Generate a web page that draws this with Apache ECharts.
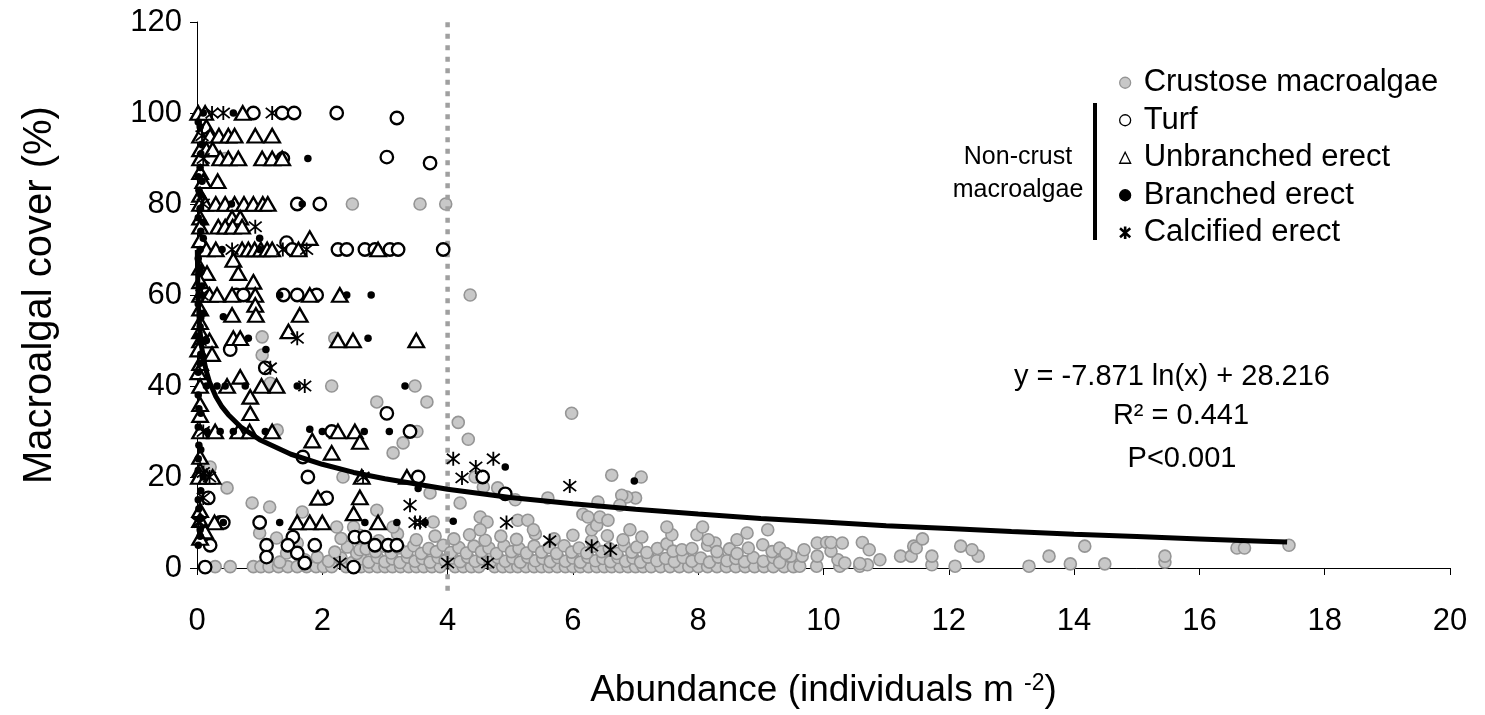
<!DOCTYPE html>
<html><head><meta charset="utf-8">
<script src="https://cdn.jsdelivr.net/npm/echarts/dist/echarts.min.js"></script>
<style>html,body{margin:0;padding:0;background:#fff}#c{width:1485px;height:715px}</style>
</head><body><div id="c"></div>
<script>
// ---------- data ----------
const seriesNames = ['Crustose macroalgae', 'Turf', 'Unbranched erect', 'Branched erect', 'Calcified erect'];

const crustose = [
 [0.29,0.3],[0.53,0.3],[0.9,0.3],[1.02,0.3],[1.15,0.3],[1.3,0.3],[1.45,0.3],[1.6,0.3],[1.75,0.3],[1.9,0.3],[2.02,0.3],[2.15,0.3],[2.38,0.3],[2.62,0.3],[2.75,0.3],[2.88,0.3],[3.0,0.3],[3.12,0.3],[3.25,0.3],[3.38,0.3],[3.5,0.3],[3.62,0.3],[3.75,0.3],[3.88,0.3],[4.12,0.3],[4.25,0.3],[4.38,0.3],[4.5,0.3],[4.75,0.3],[4.88,0.3],[5.0,0.3],[5.12,0.3],[5.25,0.3],[5.38,0.3],[5.5,0.3],[5.62,0.3],[5.75,0.3],[5.88,0.3],[6.0,0.3],[6.12,0.3],[6.25,0.3],[6.38,0.3],[6.5,0.3],[6.62,0.3],[6.75,0.3],[6.88,0.3],[7.0,0.3],[7.12,0.3],[7.25,0.3],[7.4,0.3],[7.55,0.3],[7.7,0.3],[7.85,0.3],[8.0,0.3],[8.15,0.3],[8.3,0.3],[8.45,0.3],[8.6,0.3],[8.75,0.3],[8.9,0.3],[9.05,0.3],[9.2,0.3],[9.37,0.3],[9.52,0.3],[9.62,0.4],[9.89,0.4],[10.26,0.4],[10.58,0.4],[10.7,0.7],[11.73,0.7],[12.1,0.4],[13.28,0.4],[13.94,0.9],[14.49,0.9],
 [1.32,1.3],[1.72,1.8],[2.1,1.5],[2.3,2.2],[2.48,1.2],[2.62,2.0],[2.74,1.3],[2.88,2.3],[3.0,1.4],[3.12,2.0],[3.24,1.2],[3.36,2.4],[3.48,1.5],[3.6,2.1],[3.72,1.3],[3.85,2.3],[3.96,1.6],[4.08,2.2],[4.2,1.4],[4.32,2.4],[4.44,1.5],[4.56,2.0],[4.68,1.3],[4.8,2.3],[4.92,1.5],[5.04,2.2],[5.16,1.3],[5.28,2.4],[5.4,1.6],[5.52,2.1],[5.64,1.4],[5.76,2.3],[5.88,1.5],[6.0,2.2],[6.12,1.3],[6.24,2.4],[6.36,1.6],[6.48,2.1],[6.6,1.4],[6.72,2.3],[6.84,1.5],[6.96,2.2],[7.08,1.3],[7.2,2.4],[7.34,1.6],[7.48,2.1],[7.62,1.4],[7.76,2.3],[7.9,1.5],[8.04,2.2],[8.18,1.3],[8.32,2.4],[8.46,1.6],[8.6,2.1],[8.74,1.4],[8.88,2.3],[9.04,1.5],[9.2,2.3],[9.3,1.2],[9.48,2.6],[9.66,2.6],[9.9,2.6],[10.23,1.8],[10.34,1.1],[10.58,1.0],[10.9,1.8],[11.23,2.6],[11.4,2.6],[11.73,2.6],[12.47,2.6],[13.6,2.6],[15.45,1.3],[15.45,2.6],[1.43,3.3],[1.92,2.4],
 [2.2,3.5],[2.4,4.6],[2.55,3.2],[2.6,4.0],[2.7,4.2],[2.85,3.6],[2.98,4.8],[3.1,3.3],[3.22,4.4],[3.35,3.5],[3.46,4.9],[3.58,3.2],[3.7,4.3],[3.82,3.6],[3.93,5.0],[4.05,3.4],[4.18,4.5],[4.3,3.3],[4.42,4.8],[4.54,3.6],[4.66,4.4],[4.78,3.2],[4.9,4.9],[5.02,3.6],[5.14,4.3],[5.26,3.3],[5.38,4.8],[5.5,3.5],[5.62,4.5],[5.74,3.2],[5.86,4.9],[5.98,3.5],[6.1,4.4],[6.22,3.3],[6.34,4.8],[6.46,3.6],[6.58,4.3],[6.7,3.2],[6.82,4.9],[6.94,3.5],[7.02,4.6],[7.18,3.4],[7.35,4.3],[7.5,5.3],[7.6,3.7],[7.74,4.0],[7.9,4.3],[8.15,5.0],[8.27,5.5],[8.3,3.6],[8.5,4.2],[8.62,3.2],[8.8,4.4],[9.03,5.1],[9.18,3.6],[9.3,4.4],[9.4,3.2],[9.69,4.0],[9.9,5.5],[10.05,5.6],[10.12,3.7],[10.12,5.6],[10.3,5.5],[10.62,5.6],[10.73,4.0],[11.44,4.8],[11.48,4.4],[11.58,6.4],[12.19,4.8],[12.37,4.0],[14.17,4.8],[16.6,4.4],[16.72,4.4],[17.43,5.0],
 [1.0,7.7],[1.27,6.6],[1.6,5.5],[2.3,6.5],[2.6,7.2],[2.9,6.0],[3.2,7.5],[3.5,6.2],[3.8,7.0],[4.1,6.4],[4.35,7.3],[4.6,6.1],[4.85,7.0],[5.1,6.3],[5.4,7.5],[5.7,6.4],[6.0,7.2],[6.3,6.0],[6.55,7.1],[6.8,6.2],[7.1,6.8],[7.58,7.3],[7.98,7.3],[8.16,6.2],[8.62,6.2],[8.78,7.7],
 [2.23,9.0],[2.5,9.0],[3.13,9.0],[2.87,12.7],[3.77,10.1],[4.52,11.2],[4.63,10.1],[4.52,8.4],[5.12,10.5],[5.28,10.5],[5.37,8.4],[6.16,11.8],[6.3,8.4],[6.38,9.4],[6.24,11.2],[6.43,11.2],[6.56,10.5],[6.91,8.4],[7.5,9.0],[8.07,9.0],[9.11,8.4],
 [0.45,90],[2.48,80],[3.56,80],[3.97,80],[4.36,60],[1.04,50.8],[2.2,50.5],[1.04,46.8],[1.17,40.6],[2.15,40],[3.48,40],[2.87,36.5],[3.67,36.5],[5.98,34],[4.17,32],[1.28,30.3],[3.51,30],[4.33,28.3],[3.13,25.3],[3.29,27.5],[0.21,22.2],[0.48,17.6],[0.88,14.3],[1.16,13.4],[1.68,12.3],[2.33,20],[3.72,16.5],[4.2,14.3],[6.62,20.4],[7.09,20],[7.0,15.4],[6.86,15.6],[6.78,16],[6.75,13.8],[4.57,17.8],[4.8,17.6],[4.44,20],[5.6,15.4],[5.08,15],[6.4,14.5]
];

const turf = [
 [0.9,100],[1.36,100],[1.55,100],[2.23,100],[3.19,98.9],[1.37,90],[3.03,90.3],[3.72,89],[1.6,80],[1.96,80],[1.43,71.5],[1.52,70],[2.25,70],[2.39,70],[2.68,70],[2.84,70],[3.08,70],[3.21,70],[3.93,70],
 [0.63,60],[0.74,60],[1.38,60],[1.6,60],[1.91,60],[0.53,48],[1.09,44],[3.03,34],[2.15,30],[3.4,30],[1.69,24.4],[1.77,20],[3.53,20],[0.18,15.4],[2.07,15.4],
 [0.37,10],[0.42,10],[1.0,10],[1.53,6.8],[2.52,6.8],[2.68,6.8],[1.11,5],[1.45,5],[1.88,5],[2.84,5],[3.05,5],[3.19,5],[0.21,5],[1.11,2.4],[1.6,3.3],[1.72,1.1],[0.13,0.2],[2.5,0.2],[4.56,20],[4.92,16.3]
];

const unbranched = [
 [0.02,100],[0.13,100],[0.73,100],[0.15,97],[0.05,95],[0.21,95],[0.35,95],[0.5,95],[0.6,95],[0.93,95],[1.2,95],
 [0.05,92],[0.15,92],[0.25,92],[0.05,90],[0.37,90],[0.5,90],[0.66,90],[1.04,90],[1.2,90],[1.36,90],
 [0.05,87],[0.1,85],[0.33,85],[0.05,82],[0.05,80],[0.13,80],[0.3,80],[0.45,80],[0.6,80],[0.75,80],[0.9,80],[1.05,80],[1.13,80],
 [0.05,77],[0.56,77],[0.69,77],[0.05,75],[0.34,75],[0.45,75],[0.57,75],[0.72,75],[0.05,72],[1.8,72.5],
 [0.15,70],[0.3,70],[0.72,70],[0.82,70],[0.92,70],[1.02,70],[1.12,70],[1.2,70],[1.62,70],[2.89,70],
 [0.05,66],[0.16,64.8],[0.58,67.7],[0.66,64.8],[0.9,62.9],[0.05,63],
 [0.05,60],[0.2,60],[0.32,60],[0.56,60],[0.93,60],[1.8,60],[2.28,60],[0.93,57.8],[0.05,57],[0.56,55.6],[0.94,55.6],[1.64,55.6],[0.05,54],
 [1.46,52],[0.05,52],[0.05,50],[0.2,50],[0.58,50.5],[0.69,50.5],[2.25,50],[2.49,50],[3.5,50],[0.02,48],[0.24,47],[0.05,45],[0.02,43],[0.69,42],
 [0.05,40],[0.48,40],[1.03,40],[1.27,40],[0.85,37.6],[0.05,36],[0.05,33.6],[0.85,34],
 [0.05,30],[0.29,30],[0.66,30],[0.84,30],[1.2,30],[2.25,30],[2.52,30],[1.84,28],[2.6,27.7],[2.15,25.3],[0.05,24.4],[0.05,21.5],
 [0.03,20],[0.15,20],[0.25,20],[2.63,20],[3.35,20],[1.93,15.4],[2.6,15.5],[0.05,12.7],[2.5,12],
 [0.05,10.5],[0.28,10],[1.6,10],[1.8,10],[2.0,10],[2.89,10],[0.13,8],[0.05,6.6]
];

const branched = [
 [0.58,100],[0.1,100],[0.05,97],[0.08,93],[1.77,90],[0.05,88],[0.08,85],[0.03,83],[0.55,80],[1.68,80],[0.05,79],[0.1,76],
 [1.0,72.5],[0.1,72.5],[0.4,70],[1.0,70],[0.05,70],[0.05,66],[0.08,62],[0.05,60],[1.32,60],[2.39,60],[2.78,60],[0.1,56],[0.42,55.2],[0.05,53],
 [0.05,50],[0.15,50],[0.82,50.5],[2.73,50.5],[1.1,48],[0.05,45],[0.02,43],[0.15,40],[0.32,40],[0.45,40],[0.77,40],[1.6,40],[3.32,40],[0.03,35],
 [0.16,30],[0.37,30],[0.58,30],[1.09,30],[1.8,30.5],[2.0,30],[2.67,30],[3.07,30],[0.03,27],[0.02,21.5],[0.1,20],[3.53,17.5],[0.03,13],
 [0.42,10],[1.32,10],[2.68,10],[3.19,10],[3.64,10],[4.09,10.3],[0.05,8.4],[0.05,7],[4.92,22.2],[6.98,19.1],
 [0.02,98],[0.06,91],[0.02,86],[0.06,82],[0.02,77],[0.06,74],[0.02,68],[0.06,65],[0.02,58],[0.06,55],[0.02,51],[0.06,47],[0.02,38],[0.06,34],[0.02,31],[0.06,26],[0.02,24],[0.06,17],[0.02,15],[0.06,11],[0.02,5]
];

const calcified = [
 [0.24,100],[0.42,100],[1.2,100],[0.08,95],[0.1,90],[0.1,80],[0.93,75],[0.56,70],[1.37,70],[1.75,70],[0.08,60],[0.05,50],[1.6,50.5],[1.17,44],[1.72,40],
 [0.1,30],[0.1,21],[0.2,20],[2.65,20],[0.1,15.4],[3.4,13.8],[0.02,10],[0.05,10],[3.48,10],[3.56,10],
 [4.09,24],[4.73,24],[4.23,19.8],[4.45,22.2],[5.95,18],[4.94,10],[5.63,6],[6.3,4.8],[6.6,4],[4.0,1.1],[4.64,1.1],[2.28,1.1]
];

// fitted curve y = -7.871 ln(x) + 28.216
const trendX = [0.005,0.01,0.02,0.03,0.05,0.08,0.1,0.15,0.2,0.3,0.4,0.5,0.7,1,1.5,2,2.5,3,4,5,6,7,8,9,10,11,12,13,14,15,16,17,17.4];
const trendY = [69.9,64.5,59.0,55.8,51.8,48.1,46.3,43.2,40.9,37.7,35.4,33.7,31.0,28.2,25.0,22.8,21.0,19.6,17.3,15.5,14.1,12.9,11.85,10.9,10.1,9.3,8.66,8.0,7.4,6.9,6.4,5.9,5.7];

// threshold line at 4 individuals m^-2
const thresholdX = 4;
const thresholdY = [-5, 120];

const xAxisRange = {min: 0, max: 20, interval: 2};
const yAxisRange = {min: 0, max: 120, interval: 20};

// ---------- chart ----------
const FONT = '"Liberation Sans", Arial, sans-serif';
const asterisk = 'path://M44,0L56,0L56,100L44,100Z M11.9,9.45L95.9,81.45L88.1,90.55L4.1,18.55Z M88.1,9.45L95.9,18.55L11.9,90.55L4.1,81.45Z';

const chart = echarts.init(document.getElementById('c'), null, {renderer: 'canvas'});
chart.setOption({
  animation: false,
  backgroundColor: '#fff',
  textStyle: {fontFamily: FONT, color: '#000'},
  grid: {left: 197, right: 35, top: 22, bottom: 147, containLabel: false},
  xAxis: {
    type: 'value', min: xAxisRange.min, max: xAxisRange.max, interval: xAxisRange.interval,
    axisLine: {show: true, onZero: false, lineStyle: {color: '#000', width: 1}},
    axisTick: {show: true, inside: false, length: 7, lineStyle: {color: '#000', width: 1}},
    splitLine: {show: false},
    axisLabel: {fontSize: 31, color: '#000', fontFamily: FONT, margin: 38},
    name: 'Abundance (individuals m {sup|-2})',
    nameLocation: 'middle', nameGap: 104,
    nameTextStyle: {fontSize: 37, color: '#000', fontFamily: FONT,
      rich: {sup: {fontSize: 23, color: '#000', fontFamily: FONT, verticalAlign: 'top', padding: [0, 0, 6, 0]}}}
  },
  yAxis: {
    type: 'value', min: yAxisRange.min, max: yAxisRange.max, interval: yAxisRange.interval,
    axisLine: {show: true, onZero: false, lineStyle: {color: '#000', width: 1}},
    axisTick: {show: true, inside: false, length: 7, lineStyle: {color: '#000', width: 1}},
    splitLine: {show: false},
    axisLabel: {fontSize: 31, color: '#000', fontFamily: FONT, margin: 15},
    name: 'Macroalgal cover (%)',
    nameLocation: 'middle', nameGap: 137, nameRotate: 90,
    nameTextStyle: {fontSize: 40, color: '#000', fontFamily: FONT}
  },
  legend: {
    data: seriesNames,
    orient: 'vertical', left: 1114, top: 59, itemGap: 0,
    itemWidth: 11, itemHeight: 11,
    itemStyle: {borderWidth: 1.3},
    textStyle: {fontSize: 31, color: '#000', fontFamily: FONT, lineHeight: 37.5, padding: [0, 0, 0, 8]},
    selectedMode: false
  },
  graphic: [
    {type: 'rect', left: 1093, top: 103, shape: {width: 4, height: 137}, style: {fill: '#000'}},
    {type: 'text', x: 1018, y: 174, style: {text: 'Non-crust\nmacroalgae', font: '25px ' + FONT, fill: '#000', textAlign: 'center', textVerticalAlign: 'middle', lineHeight: 33}},
    {type: 'text', x: 1172, y: 377, style: {text: 'y = -7.871 ln(x) + 28.216', font: '29px ' + FONT, fill: '#000', textAlign: 'center', textVerticalAlign: 'middle'}},
    {type: 'text', x: 1181, y: 416, style: {text: 'R² = 0.441', font: '29px ' + FONT, fill: '#000', textAlign: 'center', textVerticalAlign: 'middle'}},
    {type: 'text', x: 1182, y: 459, style: {text: 'P<0.001', font: '29px ' + FONT, fill: '#000', textAlign: 'center', textVerticalAlign: 'middle'}}
  ],
  series: [
    {name: seriesNames[0], type: 'scatter', data: crustose, symbol: 'circle', symbolSize: 12,
     itemStyle: {color: '#c8c8c8', borderColor: '#959595', borderWidth: 1.6, opacity: 1}, z: 2},
    {name: 'threshold', type: 'line', data: thresholdY.map(v => [thresholdX, v]), symbol: 'none', clip: false,
     lineStyle: {color: '#a0a0a0', width: 4.5, type: [5, 6.5], cap: 'butt'}, z: 3, silent: true},
    {name: seriesNames[1], type: 'scatter', data: turf, symbol: 'circle', symbolSize: 12.5,
     itemStyle: {color: '#fff', borderColor: '#000', borderWidth: 2.3, opacity: 1}, z: 4},
    {name: seriesNames[2], type: 'scatter', data: unbranched, symbol: 'triangle', symbolSize: [15.5, 13.5],
     itemStyle: {color: '#fff', borderColor: '#000', borderWidth: 2.3, opacity: 1}, z: 5},
    {name: seriesNames[3], type: 'scatter', data: branched, symbol: 'circle', symbolSize: 7.5,
     itemStyle: {color: '#000', borderColor: '#000', borderWidth: 0, opacity: 1}, z: 6},
    {name: seriesNames[4], type: 'scatter', data: calcified, symbol: asterisk, symbolSize: 14,
     itemStyle: {color: '#000', borderColor: '#000', borderWidth: 0, opacity: 1}, z: 7},
    {name: 'trend', type: 'line', data: trendX.map((x, i) => [x, trendY[i]]), symbol: 'none', smooth: false,
     lineStyle: {color: '#000', width: 5}, z: 8, silent: true}
  ]
});
</script>
</body></html>
